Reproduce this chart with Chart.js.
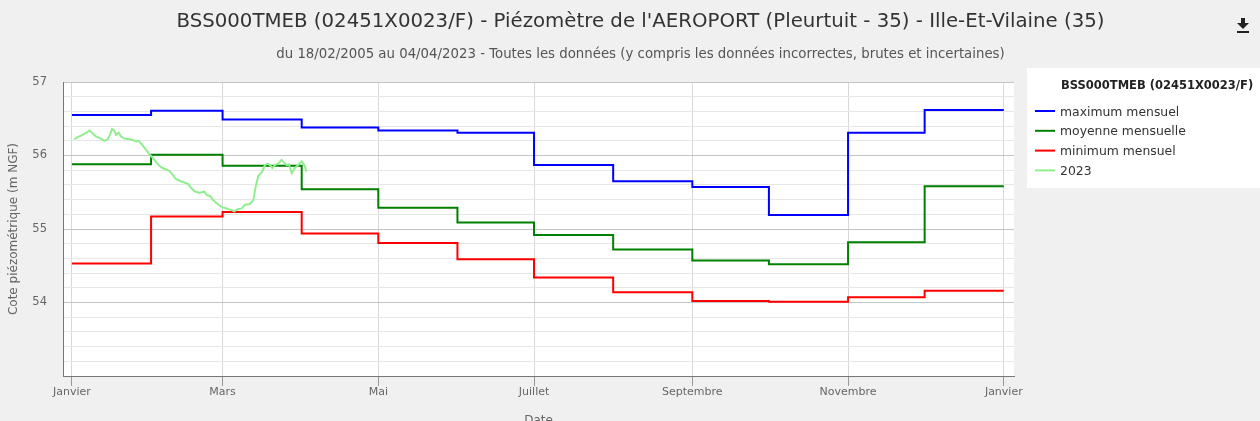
<!DOCTYPE html>
<html><head><meta charset="utf-8">
<script src="https://cdn.jsdelivr.net/npm/chart.js@4/dist/chart.umd.min.js"></script>
<style>
html,body{margin:0;padding:0;overflow:hidden;background:#f0f0f0;width:1260px;height:421px}
canvas{display:block}
</style>
</head><body>
<canvas id="c" width="1260" height="440"></canvas>
<script>
// ---------- DATA ----------
const chartTitle = "BSS000TMEB (02451X0023/F) - Piézomètre de l'AEROPORT (Pleurtuit - 35) - Ille-Et-Vilaine (35)";
const chartSubtitle = "du 18/02/2005 au 04/04/2023 - Toutes les données (y compris les données incorrectes, brutes et incertaines)";
const legendTitle = "BSS000TMEB (02451X0023/F)";
const seriesNames = ["maximum mensuel", "moyenne mensuelle", "minimum mensuel", "2023"];

const monthStartDays = [0, 31, 59, 90, 120, 151, 181, 212, 243, 273, 304, 334, 365];
const maxMensuel   = [56.55, 56.61, 56.49, 56.38, 56.34, 56.31, 55.87, 55.65, 55.57, 55.19, 56.31, 56.62];
const moyMensuelle = [55.88, 56.01, 55.86, 55.54, 55.29, 55.09, 54.92, 54.72, 54.57, 54.52, 54.82, 55.58];
const minMensuel   = [54.53, 55.17, 55.23, 54.94, 54.81, 54.59, 54.34, 54.14, 54.02, 54.01, 54.07, 54.16];

const days2023 = [0.9, 2.2, 4.2, 5.7, 6.8, 7.8, 9.4, 11.4, 12.7, 14.0, 14.9, 15.7, 16.6, 17.2, 18.3, 19.2, 20.5, 22.5, 23.8, 25.3, 26.1, 27.4, 29.0, 30.3, 31.6, 33.2, 34.9, 36.2, 38.1, 39.4, 40.7, 42.7, 44.3, 45.6, 46.9, 48.2, 50.1, 51.8, 52.8, 54.1, 55.4, 56.7, 58.6, 60.6, 62.3, 63.6, 64.9, 66.5, 67.8, 69.7, 71.0, 72.0, 73.0, 74.5, 75.6, 76.7, 77.6, 78.5, 79.5, 80.8, 82.1, 83.2, 84.1, 85.0, 86.1, 87.3, 88.6, 90.0, 91.0, 91.9];
const values2023 = [56.22, 56.25, 56.28, 56.31, 56.34, 56.31, 56.26, 56.23, 56.20, 56.22, 56.28, 56.36, 56.34, 56.28, 56.31, 56.26, 56.23, 56.22, 56.21, 56.19, 56.20, 56.15, 56.08, 56.02, 55.97, 55.90, 55.84, 55.82, 55.79, 55.74, 55.68, 55.65, 55.63, 55.61, 55.55, 55.51, 55.49, 55.51, 55.46, 55.45, 55.39, 55.35, 55.30, 55.28, 55.26, 55.24, 55.27, 55.28, 55.33, 55.34, 55.39, 55.58, 55.72, 55.78, 55.87, 55.89, 55.87, 55.83, 55.87, 55.89, 55.94, 55.90, 55.87, 55.88, 55.76, 55.83, 55.87, 55.92, 55.87, 55.78];

const xTickDays = [0, 59, 120, 181, 243, 304, 365];
const xTickLabels = ["Janvier", "Mars", "Mai", "Juillet", "Septembre", "Novembre", "Janvier"];
const xAxisTitle = "Date";
const yAxisTitle = "Cote piézométrique (m NGF)";

// ---------- STYLE ----------
const FONT = "'DejaVu Sans', sans-serif";
const colors = ["#0000ff", "#008000", "#ff0000", "#90ee90"];

function stepPoints(vals) {
  return monthStartDays.map((d, i) => ({ x: d, y: vals[Math.min(i, vals.length - 1)] }));
}
const isInt = v => Math.abs(v - Math.round(v)) < 1e-6;

const decorPlugin = {
  id: 'decor',
  beforeDraw(chart) {
    const ctx = chart.ctx, a = chart.chartArea;
    ctx.save();
    ctx.fillStyle = '#f0f0f0';
    ctx.fillRect(0, 0, chart.width, chart.height);
    ctx.fillStyle = '#ffffff';
    ctx.fillRect(a.left, a.top, a.right - a.left, a.bottom - a.top);
    ctx.fillRect(1027, 68, 233, 120);
    ctx.restore();
  },
  afterDraw(chart) {
    const ctx = chart.ctx;
    ctx.save();
    // title
    ctx.textAlign = 'center';
    ctx.textBaseline = 'alphabetic';
    ctx.font = `20px ${FONT}`;
    let s = 20 * 929 / ctx.measureText(chartTitle).width;
    ctx.font = `${s}px ${FONT}`;
    ctx.fillStyle = '#333333';
    ctx.fillText(chartTitle, 640.5, 27);
    ctx.font = `20px ${FONT}`;
    s = 20 * 729 / ctx.measureText(chartSubtitle).width;
    ctx.font = `${s}px ${FONT}`;
    ctx.fillStyle = '#555555';
    ctx.fillText(chartSubtitle, 640.5, 58);
    // download icon
    ctx.fillStyle = '#222222';
    ctx.fillRect(1241, 18, 4, 6);
    ctx.beginPath();
    ctx.moveTo(1237, 23); ctx.lineTo(1249, 23); ctx.lineTo(1243, 29); ctx.closePath();
    ctx.fill();
    ctx.fillRect(1237, 31, 12, 2);
    // legend
    ctx.textAlign = 'left';
    ctx.font = `bold 11.5px ${FONT}`;
    ctx.fillStyle = '#222222';
    ctx.fillText(legendTitle, 1061, 89);
    ctx.font = `12.4px ${FONT}`;
    chart.data.datasets.forEach((ds, i) => {
      const yc = 111 + i * 19.8;
      ctx.strokeStyle = ds.borderColor;
      ctx.lineWidth = 2;
      ctx.beginPath(); ctx.moveTo(1035, yc); ctx.lineTo(1055, yc); ctx.stroke();
      ctx.fillStyle = '#333333';
      ctx.fillText(ds.label, 1060, yc + 4.5);
    });
    ctx.restore();
  }
};

new Chart(document.getElementById('c'), {
  type: 'line',
  data: {
    datasets: [
      { label: seriesNames[0], data: stepPoints(maxMensuel), borderColor: colors[0], backgroundColor: colors[0], stepped: 'before', order: 4 },
      { label: seriesNames[1], data: stepPoints(moyMensuelle), borderColor: colors[1], backgroundColor: colors[1], stepped: 'before', order: 3 },
      { label: seriesNames[2], data: stepPoints(minMensuel), borderColor: colors[2], backgroundColor: colors[2], stepped: 'before', order: 2 },
      { label: seriesNames[3], data: days2023.map((d, i) => ({ x: d, y: values2023[i] })), borderColor: colors[3], backgroundColor: colors[3], order: 1 }
    ]
  },
  options: {
    responsive: false,
    animation: false,
    layout: { padding: { left: 0, top: 82, right: 246, bottom: 0 } },
    elements: { point: { radius: 0 }, line: { borderWidth: 2, tension: 0 } },
    plugins: { legend: { display: false }, tooltip: { enabled: false }, title: { display: false } },
    scales: {
      x: {
        type: 'linear', min: -3.5, max: 369,
        afterBuildTicks: sc => { sc.ticks = xTickDays.map(v => ({ value: v })); },
        afterFit: sc => { sc.height = 64; },
        ticks: {
          autoSkip: false, maxRotation: 0, minRotation: 0, padding: 0, color: '#666666',
          font: { family: FONT, size: 11 },
          callback: v => { const i = xTickDays.indexOf(v); return i >= 0 ? xTickLabels[i] : ''; }
        },
        grid: { color: '#d9d9d9', tickLength: 10, tickColor: '#9a9a9a' },
        border: { color: '#777777', width: 1 },
        title: { display: true, text: xAxisTitle, color: '#666666', font: { family: FONT, size: 12 }, padding: { top: 4, bottom: 12 } }
      },
      y: {
        min: 53, max: 57,
        afterFit: sc => { sc.width = 63; },
        ticks: {
          stepSize: 0.2, maxTicksLimit: 40, autoSkip: false, padding: 16, color: '#666666', font: { family: FONT, size: 11.5 },
          callback: v => (isInt(v) && Math.round(v) !== 53) ? String(Math.round(v)) : ''
        },
        grid: { drawTicks: false, color: c => isInt(c.tick.value) ? '#c4c4c4' : '#e6e6e6' },
        border: { color: '#777777', width: 1 },
        title: { display: true, text: yAxisTitle, color: '#666666', font: { family: FONT, size: 12 }, padding: { top: 7, bottom: 0 } }
      }
    }
  },
  plugins: [decorPlugin]
});
</script>
</body></html>
